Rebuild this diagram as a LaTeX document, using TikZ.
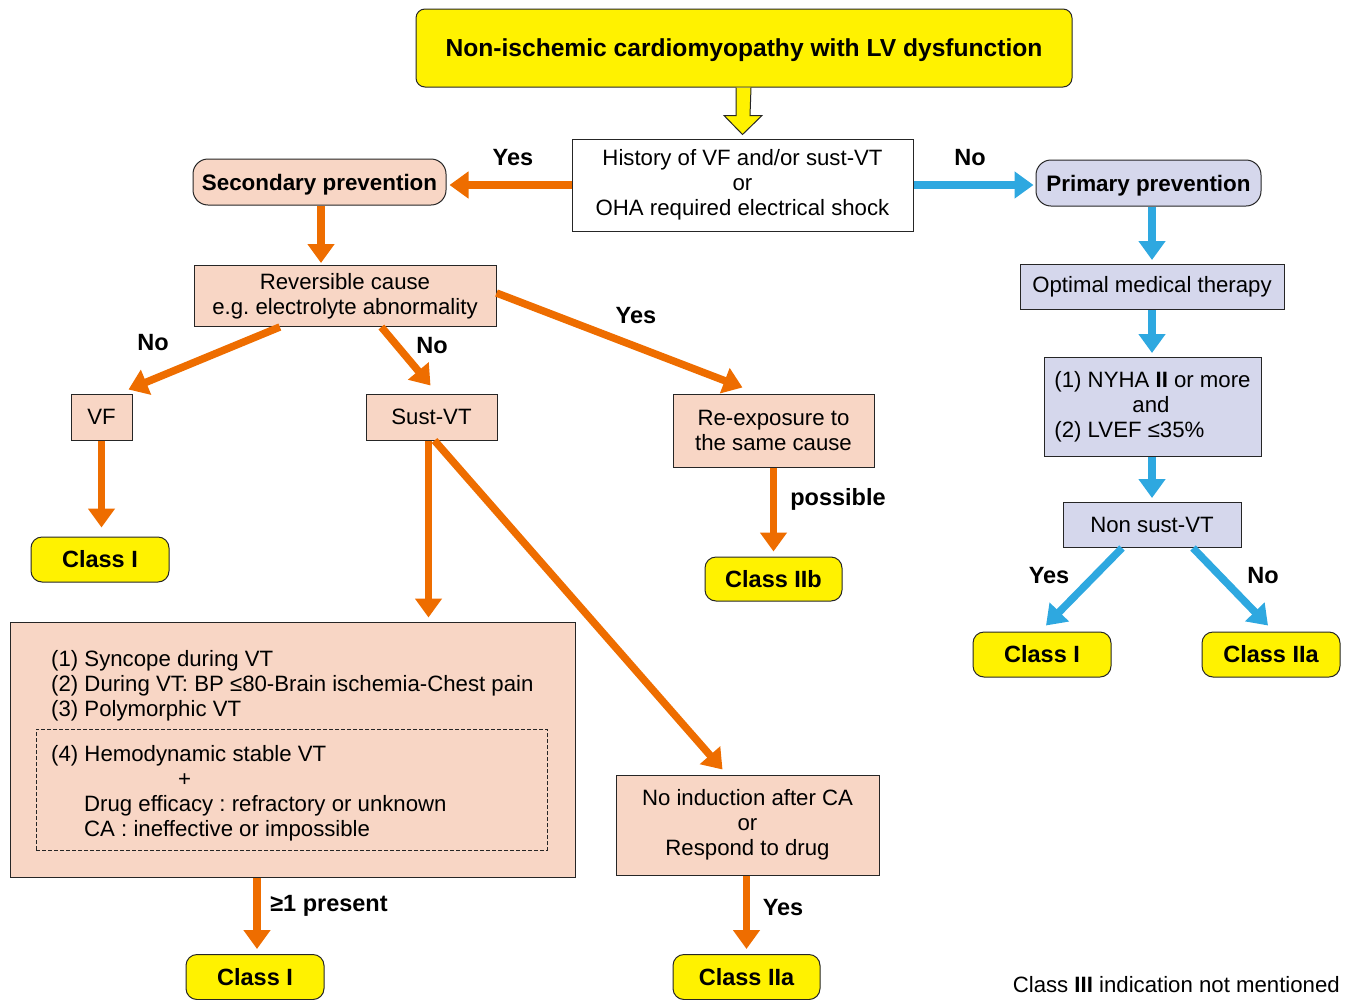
\documentclass[tikz,border=0pt]{standalone}
\usepackage{fontspec}
\setmainfont{Liberation Sans}
\usetikzlibrary{arrows.meta,calc}
\frenchspacing

\definecolor{orng}{HTML}{EE6D00}
\definecolor{skyb}{HTML}{2EA8E0}
\definecolor{yel}{HTML}{FFF200}
\definecolor{peach}{HTML}{F8D6C5}
\definecolor{lav}{HTML}{D5D7EC}

\tikzset{
  base/.style={draw=black!85, line width=1pt, inner sep=0pt, align=center,
    font=\fontsize{22.2}{25}\selectfont},
  pbox/.style={base, fill=peach},
  lbox/.style={base, fill=lav},
  wbox/.style={base, fill=white},
  rbox/.style={base, rounded corners=15pt, text depth=0pt,
    font=\fontsize{22.4}{25}\selectfont\bfseries},
  cls/.style={base, fill=yel, rounded corners=11pt, minimum height=45pt,
    font=\fontsize{23.5}{27}\selectfont\bfseries},
  oarr/.style={draw=orng, line width=7.5pt, -{Triangle[width=26pt,length=19pt]}},
  barr/.style={draw=skyb, line width=7.5pt, -{Triangle[width=26pt,length=19pt]}},
  lab/.style={inner sep=0pt, font=\fontsize{23.5}{26}\selectfont\bfseries},
  yarr/.style={draw=black!85, line width=1pt, fill=yel, line join=miter},
  plain/.style={inner sep=0pt, font=\fontsize{22.2}{25}\selectfont},
}

\begin{document}
\begin{tikzpicture}[x=1pt, y=-1pt]
\useasboundingbox (0,0) rectangle (1349,999);

% ---- top ----
\node[base, fill=yel, rounded corners=9pt, minimum width=656pt, minimum height=78pt,
  text depth=0pt, font=\fontsize{24.6}{28}\selectfont\bfseries] (title) at (744,48)
  {Non-ischemic cardiomyopathy with LV dysfunction};
\node[wbox, minimum width=341pt, minimum height=92pt] (hist) at (742.5,185)
  {History of VF and/or sust-VT\\or\\OHA required electrical shock};

% hollow block arrow between title and question
\draw[yarr] ($(title.south)+(-8,0)$) -- ++(0,28) -- ++(-12,0)
  -- ($(hist.north)+(0,-4)$) -- ($(title.south)+(18,28)$) -- ++(-12,0)
  -- ($(title.south)+(7,0)$);

% ---- secondary prevention branch ----
\node[rbox, fill=peach, minimum width=253pt, minimum height=46pt] (sec) at (319.5,182)
  {Secondary prevention};
\node[pbox, minimum width=302pt, minimum height=61pt] (rev) at (345,296)
  {Reversible cause\\e.g. electrolyte abnormality};
\node[pbox, minimum width=61pt, minimum height=46pt] (vf) at (101.5,417) {VF};
\node[pbox, minimum width=131pt, minimum height=46pt] (svt) at (431.5,417) {Sust-VT};
\node[pbox, minimum width=201pt, minimum height=73pt] (reexp) at (773.5,430.5)
  {Re-exposure to\\the same cause};
\node[cls, minimum width=138pt] (c1) at (100,559.5) {Class I};
\node[cls, minimum width=137pt, minimum height=44pt] (c2b) at (773.5,579) {Class IIb};

\node[pbox, minimum width=565pt, minimum height=255pt] (big) at (292.5,749.5) {};
\node[base, dash pattern=on 4pt off 2pt, line width=0.9pt, minimum width=511pt,
  minimum height=121pt] (dash) at (291.5,789.5) {};
\node[plain, anchor=north west, align=left] (crit) at (51,650)
  {(1) Syncope during VT\\(2) During VT: BP ≤80-Brain ischemia-Chest pain\\(3) Polymorphic VT};
\node[plain, anchor=north west, align=left] (stab) at (51,745)
  {(4) Hemodynamic stable VT\\\hspace*{127pt}+\\\hspace*{33pt}Drug efficacy : refractory or unknown\\\hspace*{33pt}CA : ineffective or impossible};

\node[pbox, minimum width=263pt, minimum height=100pt] (noind) at (747.5,825)
  {No induction after CA\\or\\Respond to drug};
\node[cls, minimum width=138pt] (c1b) at (255,977) {Class I};
\node[cls, minimum width=147pt] (c2a) at (746.5,977) {Class IIa};

% ---- primary prevention branch ----
\node[rbox, fill=lav, minimum width=225pt, minimum height=46pt] (prim) at (1148.5,183)
  {Primary prevention};
\node[lbox, minimum width=264pt, minimum height=45pt] (omt) at (1152,287)
  {Optimal medical therapy};
\node[lbox, align=left, minimum width=217pt, minimum height=99pt] (nyha) at (1152.5,407)
  {(1) NYHA \textbf{II} or more\\\hspace*{78pt}and\\(2) LVEF ≤35\%};
\node[lbox, minimum width=178pt, minimum height=45pt] (nsvt) at (1152,525)
  {Non sust-VT};
\node[cls, minimum width=138pt] (c1r) at (1042,654.5) {Class I};
\node[cls, minimum width=138pt] (c2ar) at (1271,654.5) {Class IIa};

% ---- connectors ----
\draw[oarr, shorten >=3pt] (hist.west) -- (hist.west -| sec.east);
\draw[barr, shorten >=2pt] (hist.east) -- (hist.east -| prim.west);
\draw[oarr, shorten >=2pt] (sec.south -| rev.north) ++(-24,0) coordinate (s1) -- (s1 |- rev.north);

\draw[oarr] ($(rev.south west)!0.285!(rev.south east)$) -- ($(vf.north east)+(-4,-4)$);
\draw[oarr] ($(rev.south west)!0.62!(rev.south east)$) -- ($(svt.north)+(-1,-8)$);
\draw[oarr] ($(rev.east)+(0,-3)$) -- ($(reexp.north)+(-31,-6)$);

\draw[oarr, shorten >=9pt] (vf.south) -- (vf.south |- c1.north);
\draw[oarr, shorten >=5pt] (reexp.south) -- (reexp.south |- c2b.north);
\draw[oarr, shorten >=4pt] ($(svt.south)+(-3,0)$) coordinate (s2) -- (s2 |- big.north);
\draw[oarr] ($(svt.south)+(3,0)$) -- ($(noind.north)+(-25,-5)$);
\draw[oarr, shorten >=5pt] (c1b.north |- big.south) ++(2,0) coordinate (s3) -- (s3 |- c1b.north);
\draw[oarr, shorten >=5pt] (c2a.north |- noind.south) -- (c2a.north);

\draw[barr, shorten >=4pt] (omt.north |- prim.south) -- (omt.north);
\draw[barr, shorten >=4pt] (omt.south) -- (omt.south |- nyha.north);
\draw[barr, shorten >=4pt] (nyha.south -| nsvt.north) -- (nsvt.north);
\draw[barr] ($(nsvt.south)+(-30,0)$) -- ($(c1r.north)+(4,-6)$);
\draw[barr] ($(nsvt.south)+(41,0)$) -- ($(c2ar.north)+(-3,-6)$);

% ---- branch labels ----
\node[lab] (lyes1) at (513,158) {Yes};
\node[lab] (lno1) at (970,158) {No};
\node[lab] (lno2) at (153,343) {No};
\node[lab] (lno3) at (432,346) {No};
\node[lab] (lyes2) at (636,316) {Yes};
\node[lab] (lposs) at (838,499) {possible};
\node[lab] (lpres) at (329,906) {≥1 present};
\node[lab] (lyes3) at (783,908) {Yes};
\node[lab] (lyes4) at (1049,576) {Yes};
\node[lab] (lno4) at (1263,576) {No};

\node[plain, anchor=east] (note) at (1340,985)
  {Class \textbf{III} indication not mentioned};
\end{tikzpicture}
\end{document}
